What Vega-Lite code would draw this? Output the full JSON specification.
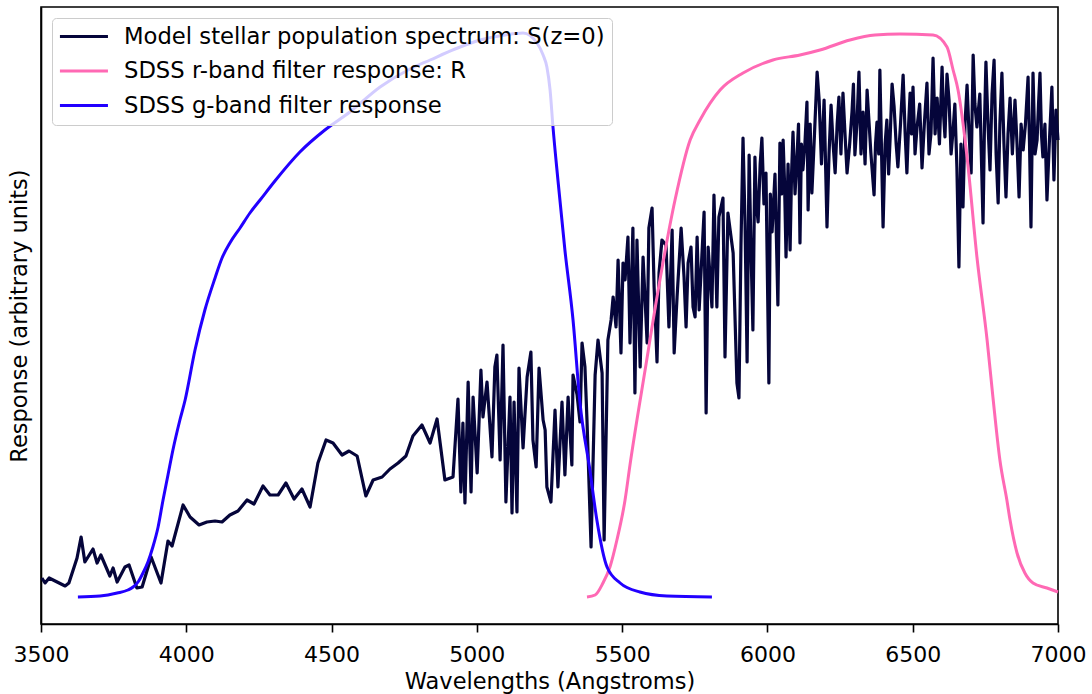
{
  "$schema": "https://vega.github.io/schema/vega-lite/v6.json",
  "width": 1017,
  "height": 617,
  "autosize": {"type": "none"},
  "padding": {"left": 41, "top": 7, "right": 34, "bottom": 70},
  "background": "white",
  "config": {
    "font": "DejaVu Sans",
    "view": {"stroke": "black", "strokeWidth": 1.6},
    "axis": {"grid": false, "domainColor": "black", "domainWidth": 1.6, "tickColor": "black", "tickWidth": 1.6, "labelColor": "black", "titleColor": "black", "labelFont": "DejaVu Sans", "titleFont": "DejaVu Sans", "titleFontWeight": "normal"},
    "legend": {"orient": "top-left", "offset": 11, "fillColor": "rgba(255,255,255,0.8)", "strokeColor": "#cccccc", "strokeWidth": 1, "cornerRadius": 4, "padding": 7, "symbolType": "M-1.1,0H3.9", "symbolSize": 369, "symbolStrokeWidth": 3.2, "labelFontSize": 22.7, "labelFont": "DejaVu Sans", "labelColor": "black", "labelOffset": 42, "rowPadding": 10.5, "labelLimit": 1000}
  },
  "datasets": {
    "spectrum": [
      {"wavelength":3503,"response":46},{"wavelength":3514,"response":41},{"wavelength":3528,"response":46},{"wavelength":3583,"response":38},{"wavelength":3596,"response":41},{"wavelength":3614,"response":57},{"wavelength":3624,"response":66},{"wavelength":3638,"response":87},{"wavelength":3651,"response":62},{"wavelength":3679,"response":75},{"wavelength":3693,"response":61},{"wavelength":3706,"response":69},{"wavelength":3737,"response":48},{"wavelength":3748,"response":56},{"wavelength":3762,"response":42},{"wavelength":3789,"response":57},{"wavelength":3803,"response":59},{"wavelength":3830,"response":36},{"wavelength":3848,"response":37},{"wavelength":3879,"response":67},{"wavelength":3913,"response":41},{"wavelength":3937,"response":83},{"wavelength":3951,"response":78},{"wavelength":3989,"response":119},{"wavelength":4013,"response":107},{"wavelength":4044,"response":99},{"wavelength":4071,"response":102},{"wavelength":4099,"response":103},{"wavelength":4123,"response":102},{"wavelength":4150,"response":109},{"wavelength":4178,"response":113},{"wavelength":4209,"response":124},{"wavelength":4233,"response":120},{"wavelength":4264,"response":138},{"wavelength":4288,"response":129},{"wavelength":4316,"response":129},{"wavelength":4343,"response":141},{"wavelength":4371,"response":125},{"wavelength":4398,"response":135},{"wavelength":4426,"response":117},{"wavelength":4453,"response":161},{"wavelength":4481,"response":184},{"wavelength":4505,"response":181},{"wavelength":4536,"response":169},{"wavelength":4560,"response":173},{"wavelength":4588,"response":168},{"wavelength":4618,"response":128},{"wavelength":4643,"response":144},{"wavelength":4674,"response":147},{"wavelength":4701,"response":155},{"wavelength":4729,"response":161},{"wavelength":4756,"response":168},{"wavelength":4780,"response":188},{"wavelength":4811,"response":199},{"wavelength":4839,"response":181},{"wavelength":4863,"response":205},{"wavelength":4890,"response":144},{"wavelength":4918,"response":147},
      {"wavelength":4935,"response":225},{"wavelength":4945,"response":132},{"wavelength":4952,"response":201},{"wavelength":4959,"response":121},{"wavelength":4970,"response":242},{"wavelength":4980,"response":132},{"wavelength":4987,"response":227},{"wavelength":5001,"response":151},{"wavelength":5014,"response":254},{"wavelength":5021,"response":207},{"wavelength":5035,"response":242},{"wavelength":5052,"response":167},{"wavelength":5062,"response":257},{"wavelength":5069,"response":269},{"wavelength":5080,"response":164},{"wavelength":5090,"response":279},{"wavelength":5100,"response":122},{"wavelength":5114,"response":227},{"wavelength":5121,"response":111},{"wavelength":5128,"response":222},{"wavelength":5138,"response":112},{"wavelength":5145,"response":256},{"wavelength":5159,"response":176},{"wavelength":5173,"response":247},{"wavelength":5186,"response":272},{"wavelength":5193,"response":184},{"wavelength":5204,"response":157},{"wavelength":5214,"response":256},{"wavelength":5228,"response":204},{"wavelength":5235,"response":194},{"wavelength":5241,"response":137},{"wavelength":5255,"response":122},{"wavelength":5269,"response":214},{"wavelength":5279,"response":137},{"wavelength":5293,"response":222},{"wavelength":5303,"response":149},{"wavelength":5314,"response":227},{"wavelength":5327,"response":159},{"wavelength":5331,"response":249},{"wavelength":5345,"response":229},{"wavelength":5355,"response":202},{"wavelength":5362,"response":281},{"wavelength":5372,"response":257},{"wavelength":5379,"response":204},{"wavelength":5393,"response":77},{"wavelength":5407,"response":249},{"wavelength":5417,"response":284},{"wavelength":5431,"response":251},{"wavelength":5438,"response":84},{"wavelength":5451,"response":284},{"wavelength":5462,"response":304},
      {"wavelength":5469,"response":327},{"wavelength":5479,"response":297},{"wavelength":5486,"response":364},{"wavelength":5496,"response":271},{"wavelength":5503,"response":361},{"wavelength":5510,"response":344},{"wavelength":5520,"response":387},{"wavelength":5527,"response":281},{"wavelength":5537,"response":396},{"wavelength":5544,"response":231},{"wavelength":5551,"response":384},{"wavelength":5562,"response":257},{"wavelength":5572,"response":367},{"wavelength":5586,"response":281},{"wavelength":5592,"response":396},{"wavelength":5603,"response":416},{"wavelength":5610,"response":337},{"wavelength":5620,"response":262},{"wavelength":5627,"response":351},{"wavelength":5637,"response":384},{"wavelength":5651,"response":379},{"wavelength":5661,"response":297},{"wavelength":5672,"response":394},{"wavelength":5679,"response":271},{"wavelength":5689,"response":327},{"wavelength":5703,"response":396},{"wavelength":5713,"response":347},{"wavelength":5720,"response":297},{"wavelength":5727,"response":361},{"wavelength":5737,"response":377},{"wavelength":5744,"response":317},{"wavelength":5751,"response":307},{"wavelength":5758,"response":387},{"wavelength":5765,"response":314},{"wavelength":5782,"response":412},{"wavelength":5789,"response":211},{"wavelength":5796,"response":377},{"wavelength":5809,"response":317},{"wavelength":5816,"response":429},{"wavelength":5826,"response":317},{"wavelength":5833,"response":407},{"wavelength":5847,"response":426},{"wavelength":5854,"response":267},{"wavelength":5864,"response":411},{"wavelength":5882,"response":371},{"wavelength":5895,"response":241},{"wavelength":5902,"response":226},
      {"wavelength":5909,"response":380},{"wavelength":5916,"response":486},{"wavelength":5923,"response":400},{"wavelength":5930,"response":262},{"wavelength":5937,"response":469},{"wavelength":5943,"response":380},{"wavelength":5950,"response":294},{"wavelength":5957,"response":467},{"wavelength":5962,"response":420},{"wavelength":5968,"response":402},{"wavelength":5975,"response":460},{"wavelength":5981,"response":486},{"wavelength":5988,"response":420},{"wavelength":5995,"response":451},{"wavelength":6005,"response":241},{"wavelength":6010,"response":430},{"wavelength":6016,"response":392},{"wavelength":6026,"response":450},{"wavelength":6036,"response":319},{"wavelength":6043,"response":481},{"wavelength":6049,"response":430},{"wavelength":6054,"response":484},{"wavelength":6059,"response":440},{"wavelength":6064,"response":367},{"wavelength":6071,"response":460},{"wavelength":6078,"response":374},{"wavelength":6083,"response":450},{"wavelength":6088,"response":492},{"wavelength":6095,"response":430},{"wavelength":6102,"response":469},{"wavelength":6107,"response":500},{"wavelength":6112,"response":381},{"wavelength":6117,"response":480},{"wavelength":6122,"response":454},{"wavelength":6129,"response":480},{"wavelength":6136,"response":522},{"wavelength":6140,"response":414},{"wavelength":6147,"response":500},{"wavelength":6153,"response":431},{"wavelength":6162,"response":490},{"wavelength":6171,"response":552},{"wavelength":6178,"response":524},{"wavelength":6186,"response":460},{"wavelength":6195,"response":524},{"wavelength":6205,"response":397},{"wavelength":6212,"response":470},{"wavelength":6219,"response":519},{"wavelength":6226,"response":480},{"wavelength":6233,"response":451},{"wavelength":6240,"response":500},{"wavelength":6246,"response":527},{"wavelength":6253,"response":470},{"wavelength":6260,"response":531},{"wavelength":6267,"response":490},{"wavelength":6274,"response":451},{"wavelength":6283,"response":480},{"wavelength":6291,"response":512},{"wavelength":6296,"response":540},{"wavelength":6301,"response":469},{"wavelength":6308,"response":500},{"wavelength":6315,"response":552},{"wavelength":6322,"response":470},{"wavelength":6329,"response":512},{"wavelength":6336,"response":460},{"wavelength":6343,"response":534},{"wavelength":6350,"response":500},{"wavelength":6356,"response":471},{"wavelength":6367,"response":429},{"wavelength":6372,"response":480},{"wavelength":6377,"response":502},{"wavelength":6383,"response":470},{"wavelength":6387,"response":554},{"wavelength":6398,"response":397},{"wavelength":6405,"response":480},{"wavelength":6411,"response":504},{"wavelength":6417,"response":450},{"wavelength":6422,"response":484},{"wavelength":6429,"response":540},{"wavelength":6436,"response":517},{"wavelength":6443,"response":480},{"wavelength":6449,"response":457},{"wavelength":6458,"response":500},{"wavelength":6467,"response":549},{"wavelength":6474,"response":490},{"wavelength":6480,"response":451},{"wavelength":6486,"response":500},{"wavelength":6491,"response":531},{"wavelength":6496,"response":490},{"wavelength":6501,"response":537},{"wavelength":6508,"response":470},{"wavelength":6515,"response":497},{"wavelength":6524,"response":520},{"wavelength":6532,"response":456},{"wavelength":6540,"response":500},{"wavelength":6549,"response":541},{"wavelength":6556,"response":470},{"wavelength":6563,"response":491},{"wavelength":6570,"response":566},{"wavelength":6577,"response":490},{"wavelength":6584,"response":526},{"wavelength":6592,"response":480},{"wavelength":6601,"response":557},{"wavelength":6606,"response":510},{"wavelength":6611,"response":487},{"wavelength":6618,"response":550},{"wavelength":6625,"response":524},{"wavelength":6632,"response":470},{"wavelength":6639,"response":494},{"wavelength":6645,"response":520},{"wavelength":6652,"response":457},{"wavelength":6659,"response":357},{"wavelength":6666,"response":480},{"wavelength":6673,"response":417},{"wavelength":6680,"response":500},{"wavelength":6687,"response":539},{"wavelength":6694,"response":490},{"wavelength":6701,"response":451},{"wavelength":6708,"response":569},{"wavelength":6714,"response":520},{"wavelength":6721,"response":497},{"wavelength":6731,"response":530},{"wavelength":6742,"response":401},{"wavelength":6747,"response":500},{"wavelength":6752,"response":562},{"wavelength":6759,"response":500},{"wavelength":6766,"response":454},{"wavelength":6773,"response":530},{"wavelength":6780,"response":564},{"wavelength":6787,"response":470},{"wavelength":6794,"response":421},{"wavelength":6800,"response":500},{"wavelength":6807,"response":551},{"wavelength":6814,"response":480},{"wavelength":6821,"response":427},{"wavelength":6828,"response":490},{"wavelength":6835,"response":526},{"wavelength":6843,"response":470},{"wavelength":6852,"response":524},{"wavelength":6859,"response":480},{"wavelength":6866,"response":427},{"wavelength":6873,"response":500},{"wavelength":6880,"response":474},{"wavelength":6888,"response":500},{"wavelength":6897,"response":547},{"wavelength":6902,"response":480},{"wavelength":6907,"response":397},{"wavelength":6914,"response":551},{"wavelength":6921,"response":470},{"wavelength":6928,"response":484},{"wavelength":6933,"response":520},{"wavelength":6938,"response":551},{"wavelength":6943,"response":490},{"wavelength":6948,"response":467},{"wavelength":6955,"response":500},{"wavelength":6962,"response":424},{"wavelength":6970,"response":480},{"wavelength":6979,"response":537},{"wavelength":6986,"response":444},{"wavelength":6993,"response":514},{"wavelength":7000,"response":484}
    ],
    "rband": [
      {"wavelength":5379,"response":27},{"wavelength":5407,"response":29},{"wavelength":5434,"response":41},{"wavelength":5458,"response":57},{"wavelength":5482,"response":84},{"wavelength":5510,"response":124},{"wavelength":5527,"response":159},{"wavelength":5579,"response":254},{"wavelength":5630,"response":344},{"wavelength":5682,"response":424},{"wavelength":5734,"response":484},{"wavelength":5768,"response":504},{"wavelength":5837,"response":534},{"wavelength":5916,"response":551},{"wavelength":6019,"response":564},{"wavelength":6112,"response":569},{"wavelength":6181,"response":574},{"wavelength":6284,"response":584},{"wavelength":6370,"response":589},{"wavelength":6456,"response":590},{"wavelength":6570,"response":589},{"wavelength":6618,"response":577},{"wavelength":6639,"response":554},{"wavelength":6656,"response":534},{"wavelength":6687,"response":467},{"wavelength":6721,"response":367},{"wavelength":6756,"response":284},{"wavelength":6776,"response":227},{"wavelength":6800,"response":164},{"wavelength":6824,"response":124},{"wavelength":6835,"response":104},{"wavelength":6859,"response":71},{"wavelength":6886,"response":51},{"wavelength":6914,"response":41},{"wavelength":6962,"response":36},{"wavelength":7000,"response":32}
    ],
    "gband": [
      {"wavelength":3627,"response":27},{"wavelength":3703,"response":28},{"wavelength":3762,"response":31},{"wavelength":3799,"response":34},{"wavelength":3817,"response":37},{"wavelength":3834,"response":42},{"wavelength":3851,"response":51},{"wavelength":3868,"response":62},{"wavelength":3885,"response":77},{"wavelength":3903,"response":97},{"wavelength":3920,"response":124},{"wavelength":3937,"response":149},{"wavelength":3954,"response":174},{"wavelength":3978,"response":204},{"wavelength":3996,"response":224},{"wavelength":4030,"response":274},{"wavelength":4064,"response":314},{"wavelength":4099,"response":346},{"wavelength":4123,"response":366},{"wavelength":4150,"response":381},{"wavelength":4185,"response":396},{"wavelength":4219,"response":411},{"wavelength":4254,"response":424},{"wavelength":4305,"response":443},{"wavelength":4391,"response":472},{"wavelength":4477,"response":494},{"wavelength":4563,"response":512},{"wavelength":4667,"response":537},{"wavelength":4770,"response":555},{"wavelength":4839,"response":564},{"wavelength":4925,"response":575},{"wavelength":5011,"response":584},{"wavelength":5097,"response":589},{"wavelength":5159,"response":591},{"wavelength":5207,"response":581},{"wavelength":5228,"response":569},{"wavelength":5241,"response":557},{"wavelength":5252,"response":534},{"wavelength":5262,"response":497},{"wavelength":5279,"response":444},{"wavelength":5303,"response":374},{"wavelength":5331,"response":304},{"wavelength":5355,"response":221},{"wavelength":5389,"response":154},{"wavelength":5413,"response":104},{"wavelength":5448,"response":57},{"wavelength":5493,"response":41},{"wavelength":5561,"response":32},{"wavelength":5654,"response":28},{"wavelength":5809,"response":27}
    ]
  },
  "encoding": {
    "x": {"field": "wavelength", "type": "quantitative", "scale": {"domain": [3500, 7000], "nice": false, "zero": false},
      "axis": {"values": [3500, 4000, 4500, 5000, 5500, 6000, 6500, 7000], "format": "d", "title": "Wavelengths (Angstroms)", "tickSize": 8, "labelFontSize": 22, "titleFontSize": 22.5, "labelPadding": 12, "titlePadding": 5, "labelFlush": false, "labelOverlap": false}},
    "y": {"field": "response", "type": "quantitative", "scale": {"domain": [0, 617], "nice": false, "zero": false},
      "axis": {"labels": false, "ticks": false, "title": "Response (arbitrary units)", "titleFontSize": 22.5, "titlePadding": 10}},
    "color": {"scale": {"domain": ["Model stellar population spectrum: S(z=0)", "SDSS r-band filter response: R", "SDSS g-band filter response"], "range": ["#05053a", "#ff69b4", "#2200ff"]}, "legend": {"title": null}}
  },
  "layer": [
    {"data": {"name": "spectrum"}, "mark": {"type": "line", "strokeWidth": 3.2, "strokeJoin": "round"}, "encoding": {"color": {"datum": "Model stellar population spectrum: S(z=0)"}}},
    {"data": {"name": "rband"}, "mark": {"type": "line", "strokeWidth": 3, "interpolate": "monotone"}, "encoding": {"color": {"datum": "SDSS r-band filter response: R"}}},
    {"data": {"name": "gband"}, "mark": {"type": "line", "strokeWidth": 3, "interpolate": "monotone"}, "encoding": {"color": {"datum": "SDSS g-band filter response"}}}
  ]
}
